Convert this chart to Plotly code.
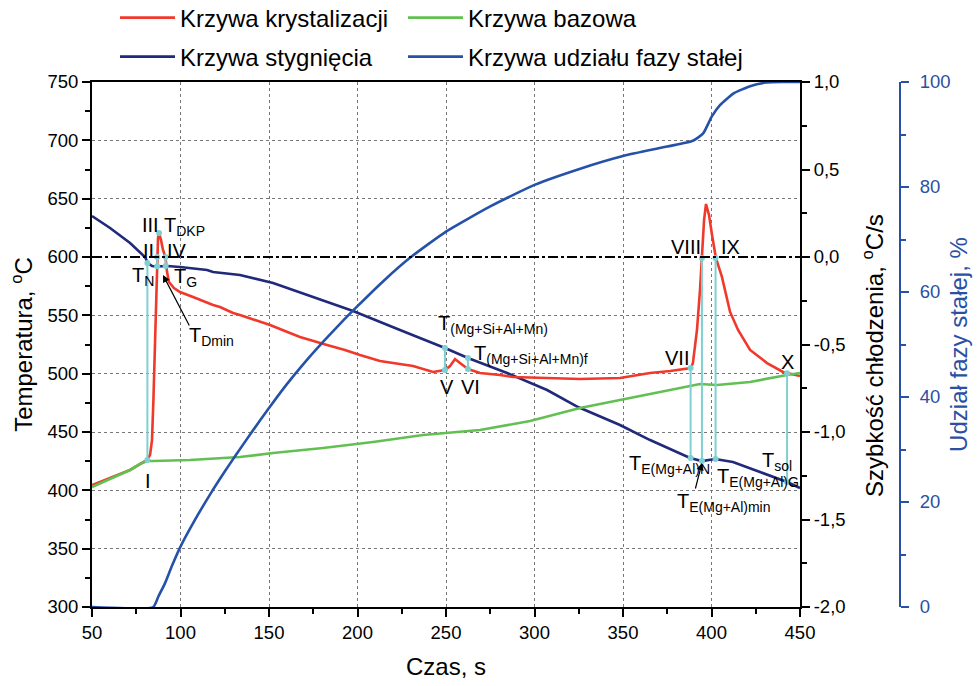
import plotly.graph_objects as go

# ---------------- data ----------------
# Krzywa krystalizacji (dT/dt, °C/s)
t_kryst = [50, 60.2, 71.5, 77.1, 81.1, 82.8, 83.9, 84.7, 85.6, 86.2, 86.7, 87.3, 87.9, 89.0, 90.1,
           91.5, 92.4, 93.5, 96.3, 99.7, 107.1, 111.0, 118.4, 122.3, 129.7, 133.6, 142.1, 150.6,
           159.0, 167.5, 182.8, 192.9, 201.4, 212.7, 220.1, 231.4, 242.7, 249.4, 252.3, 255.1,
           257.9, 262.4, 269.2, 280.5, 287.9, 307.1, 325.7, 348.3, 365.3, 376.6, 385.0, 388.4,
           389.5, 390.7, 391.8, 393.5, 394.6, 395.8, 396.9, 398.6, 400.3, 402.5, 405.9, 410.5,
           415.0, 421.8, 431.4, 440.4, 442.7, 450]
r_kryst = [-1.303, -1.263, -1.217, -1.183, -1.160, -1.131, -1.046, -0.817, -0.474, -0.246, 0.0,
           0.109, 0.137, 0.097, 0.040, 0.0, -0.086, -0.143, -0.177, -0.200, -0.229, -0.246,
           -0.274, -0.286, -0.320, -0.331, -0.360, -0.389, -0.423, -0.457, -0.503, -0.531,
           -0.560, -0.594, -0.606, -0.623, -0.657, -0.646, -0.623, -0.583, -0.606, -0.640,
           -0.663, -0.674, -0.686, -0.691, -0.697, -0.691, -0.663, -0.651, -0.640, -0.634,
           -0.606, -0.503, -0.417, -0.189, -0.006, 0.211, 0.303, 0.240, 0.126, -0.006, -0.114,
           -0.314, -0.417, -0.531, -0.606, -0.657, -0.663, -0.680]

# Krzywa bazowa (°C/s)
t_baz = [50, 60.2, 71.5, 77.1, 81.1, 84.5, 105.4, 133.6, 152.3, 180.5, 208.8, 237.0, 269.2,
         297.5, 325.7, 348.3, 365.3, 382.2, 393.5, 403.1, 421.8, 442.7, 450]
r_baz = [-1.314, -1.269, -1.217, -1.183, -1.166, -1.166, -1.160, -1.143, -1.120, -1.091, -1.057,
         -1.017, -0.989, -0.937, -0.863, -0.817, -0.783, -0.749, -0.726, -0.731, -0.714,
         -0.674, -0.663]

# Krzywa stygnięcia (°C)
t_styg = [50, 60.2, 71.5, 79.9, 81.6, 83.9, 86.7, 92.4, 99.7, 115.0, 118.4, 133.6, 152.3, 171.5,
          197.5, 224.0, 249.4, 262.4, 284.5, 307.1, 324.6, 348.3, 365.3, 387.9, 394.6, 402.0,
          412.1, 427.4, 442.7, 450]
T_styg = [635.1, 624.9, 612.0, 600.0, 594.9, 592.3, 591.9, 592.3, 591.4, 588.9, 587.1, 584.6,
          577.7, 567.4, 553.7, 537.4, 522.0, 513.4, 500.6, 486.0, 471.4, 456.0, 443.1, 427.7,
          425.1, 426.9, 424.3, 415.7, 407.1, 402.0]

# Krzywa udziału fazy stałej (%)
t_faza = [50, 84.6, 87.5, 91.2, 95.0, 100, 108, 117, 125, 131, 140, 150, 160, 170, 180, 190,
          200, 215, 230, 250, 275, 300, 325, 350, 375, 389.5, 395.3, 400.1, 404.8, 412.3, 421.8,
          431.2, 440, 450]
f_faza = [0, 0, 2.0, 4.5, 7.7, 11.5, 16.5, 21.6, 25.8, 28.8, 33.2, 37.9, 42.4, 46.5, 50.3, 53.9,
          57.3, 62.2, 66.6, 71.5, 76.3, 80.4, 83.4, 85.9, 87.7, 88.8, 90.2, 93.4, 95.6, 97.8,
          99.2, 99.9, 100, 100]

# Charakterystyczne punkty (czas, temperatura na krzywej krystalizacji, temperatura na krzywej stygnięcia)
t_pkt = [81.3, 86.8, 87.9, 91.6, 249.4, 262.4, 388.2, 394.6, 402.3, 442.7]
T_pkt_a = [426.0, 600.0, 620.6, 600.0, 503.1, 504.0, 504.9, 599.1, 599.1, 500.4]
T_pkt_b = [594.9, 592.1, None, 592.3, 522.0, 513.4, 427.7, 425.1, 426.9, 407.1]

x_ticks = [50, 100, 150, 200, 250, 300, 350, 400, 450]
y2_vals = [-2.0, -1.5, -1.0, -0.5, 0.0, 0.5, 1.0]
y2_text = ["-2,0", "-1,5", "-1,0", "-0,5", "0,0", "0,5", "1,0"]

# ---------------- styles ----------------
FONT = "Liberation Sans, Arial, Helvetica, sans-serif"
RED = "#f0392b"
GREEN = "#62c052"
NAVY = "#20297a"
BLUE = "#2552a8"
CYAN = "#7fd0d2"
AX_BLUE = "#2a50a3"
TICKF = 18.5
TITLEF = 24

cx, cy = [], []
for t, a, b in zip(t_pkt, T_pkt_a, T_pkt_b):
    cx += [t] + ([t] if b is not None else []) + [None]
    cy += [a] + ([b] if b is not None else []) + [None]

fig = go.Figure()
fig.add_trace(go.Scatter(x=t_kryst, y=r_kryst, mode="lines", name="Krzywa krystalizacji",
                         line=dict(color=RED, width=2.6), yaxis="y2", legend="legend"))
fig.add_trace(go.Scatter(x=t_baz, y=r_baz, mode="lines", name="Krzywa bazowa",
                         line=dict(color=GREEN, width=2.6), yaxis="y2", legend="legend2"))
fig.add_trace(go.Scatter(x=t_styg, y=T_styg, mode="lines", name="Krzywa stygnięcia",
                         line=dict(color=NAVY, width=2.6), yaxis="y", legend="legend3"))
fig.add_trace(go.Scatter(x=t_faza, y=f_faza, mode="lines", name="Krzywa udziału fazy stałej",
                         line=dict(color=BLUE, width=2.6, shape="spline", smoothing=0.5),
                         yaxis="y3", legend="legend4"))
fig.add_trace(go.Scatter(x=cx, y=cy, mode="lines+markers", showlegend=False,
                         line=dict(color=CYAN, width=2), marker=dict(color=CYAN, size=6),
                         yaxis="y4", connectgaps=False))

def ann(text, x, y, xa="center", ya="middle"):
    return dict(text=text, x=x, y=y, xref="x", yref="y", xanchor=xa, yanchor=ya,
                showarrow=False, font=dict(family=FONT, size=20, color="black"))

annotations = [
    ann("III", 82.8, 627.4),
    ann("T<sub>DKP</sub>", 89.5, 638.6, "left", "top"),
    ann("II", 81.9, 605.1),
    ann("IV", 98.3, 605.1),
    ann("T<sub>N</sub>", 71.5, 595.7, "left", "top"),
    ann("T<sub>G</sub>", 95.2, 594.9, "left", "top"),
    ann("T<sub>Dmin</sub>", 103.7, 544.3, "left", "top"),
    ann("I", 81.6, 408.0),
    ann("T<sub>(Mg+Si+Al+Mn)</sub>", 244.4, 554.6, "left", "top"),
    ann("T<sub>(Mg+Si+Al+Mn)f</sub>", 264.7, 528.9, "left", "top"),
    ann("V", 250.6, 488.6),
    ann("VI", 264.1, 488.6),
    ann("VII", 380.5, 513.4),
    ann("VIII", 385.6, 608.6),
    ann("IX", 411.0, 608.6),
    ann("X", 442.7, 510.0),
    ann("T<sub>E(Mg+Al)N</sub>", 352.3, 434.6, "left", "top"),
    ann("T<sub>E(Mg+Al)min</sub>", 379.4, 402.0, "left", "top"),
    ann("T<sub>E(Mg+Al)G</sub>", 402.0, 423.4, "left", "top"),
    ann("T<sub>sol</sub>", 427.4, 437.1, "left", "top"),
    dict(text="", x=90.1, y=584.6, ax=105.4, ay=540.0, xref="x", yref="y", axref="x", ayref="y",
         showarrow=True, arrowhead=2, arrowsize=1.2, arrowwidth=1.2, arrowcolor="black"),
    dict(text="", x=394.6, y=423.4, ax=390.7, ay=400.3, xref="x", yref="y", axref="x", ayref="y",
         showarrow=True, arrowhead=2, arrowsize=1.2, arrowwidth=1.2, arrowcolor="black"),
    # title of the cooling-rate axis
    dict(text="Szybkość chłodzenia, <sup>o</sup>C/s", x=0.9432, y=0.48, xref="paper",
         yref="paper", xanchor="center", yanchor="middle", textangle=-90, showarrow=False,
         font=dict(family=FONT, size=TITLEF, color="black")),
]

# zero line of the cooling-rate axis
shapes = [dict(type="line", xref="x", x0=50, x1=450, yref="y2", y0=0, y1=0,
               line=dict(color="black", width=2, dash="10px,3px,3px,3px"), layer="above")]

axis_common = dict(showline=True, linecolor="black", linewidth=2, ticks="outside",
                   ticklen=8, tickwidth=2, tickcolor="black",
                   tickfont=dict(family=FONT, size=TICKF, color="black"))

def leg(x, y):
    return dict(orientation="h", x=x, xanchor="left", y=y, yanchor="middle", itemwidth=55,
                font=dict(family=FONT, size=24, color="black"), bgcolor="rgba(0,0,0,0)")

fig.update_layout(
    width=977, height=686,
    margin=dict(l=92, r=57, t=82, b=79, autoexpand=False),
    paper_bgcolor="white", plot_bgcolor="white",
    separators=", ",
    font=dict(family=FONT, color="black"),
    xaxis=dict(domain=[0, 0.85507], range=[50, 450], tickvals=x_ticks, mirror=True,
               showgrid=True, gridcolor="#777", griddash="dot", gridwidth=1,
               minor=dict(dtick=25, tick0=50, ticks="outside", ticklen=5, tickwidth=2,
                          tickcolor="black", showgrid=False),
               title=dict(text="Czas, s", font=dict(family=FONT, size=TITLEF), standoff=16),
               **axis_common),
    yaxis=dict(range=[300, 750], dtick=50, tick0=300,
               showgrid=True, gridcolor="#777", griddash="dot", gridwidth=1,
               minor=dict(dtick=25, tick0=300, ticks="outside", ticklen=5, tickwidth=2,
                          tickcolor="black", showgrid=False),
               title=dict(text="Temperatura, <sup>o</sup>C", font=dict(family=FONT, size=TITLEF),
                          standoff=8),
               **axis_common),
    yaxis2=dict(range=[-2, 1], overlaying="y", side="right", anchor="x",
                tickmode="array", tickvals=y2_vals, ticktext=y2_text, showgrid=False,
                minor=dict(dtick=0.25, tick0=-2, ticks="outside", ticklen=5, tickwidth=2,
                           tickcolor="black", showgrid=False),
                **axis_common),
    yaxis3=dict(range=[0, 100], overlaying="y", side="right", anchor="free", position=0.97585,
                dtick=20, tick0=0, showgrid=False, showline=True, linecolor=AX_BLUE, linewidth=2,
                ticks="outside", ticklen=8, tickwidth=2, tickcolor=AX_BLUE, ticklabelstandoff=7,
                tickfont=dict(family=FONT, size=TICKF, color=AX_BLUE),
                minor=dict(dtick=10, tick0=0, ticks="outside", ticklen=5, tickwidth=2,
                           tickcolor=AX_BLUE, showgrid=False),
                title=dict(text="Udział fazy stałej, %",
                           font=dict(family=FONT, size=TITLEF, color=AX_BLUE), standoff=0)),
    yaxis4=dict(range=[300, 750], overlaying="y", visible=False),
    legend=leg(0.0278, 1.1219),
    legend2=leg(0.3756, 1.1219),
    legend3=leg(0.0278, 1.0476),
    legend4=leg(0.3756, 1.0476),
    annotations=annotations,
    shapes=shapes,
)

fig.write_html("out.html")
